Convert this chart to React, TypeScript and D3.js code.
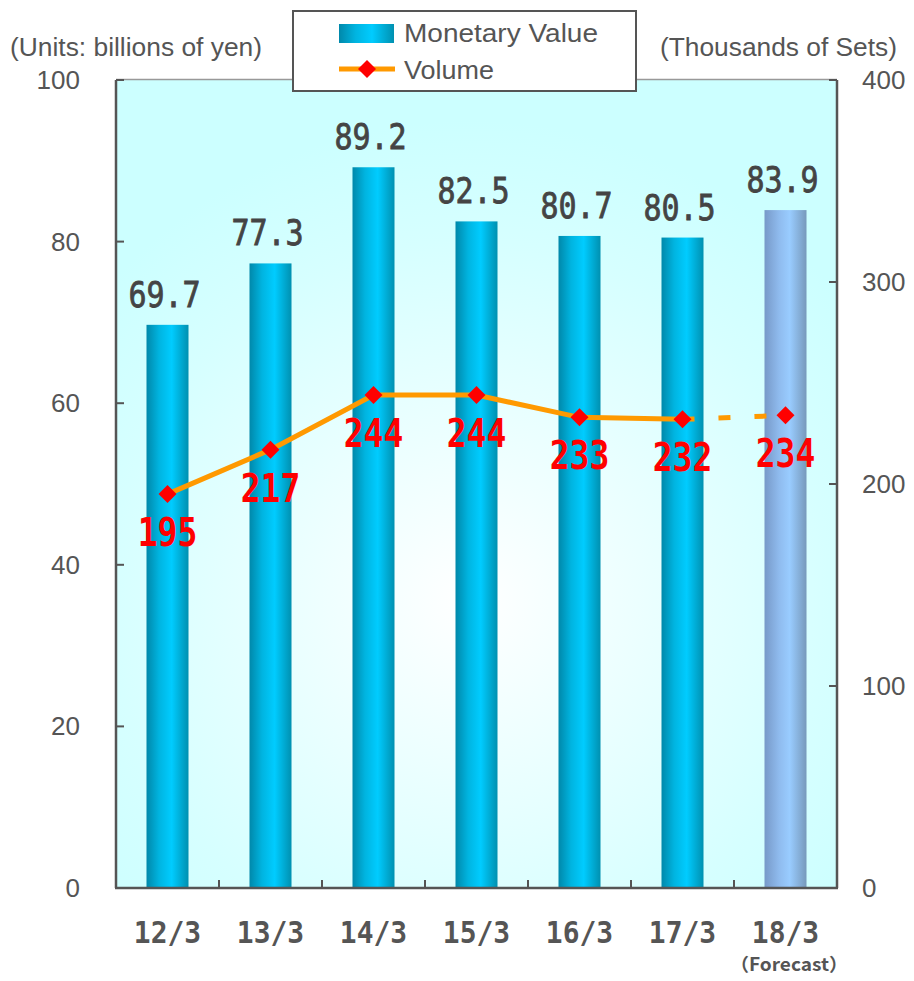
import React from "react";
import * as d3 from "d3";

const categories = ["12/3", "13/3", "14/3", "15/3", "16/3", "17/3", "18/3"];
const monetaryValue = [69.7, 77.3, 89.2, 82.5, 80.7, 80.5, 83.9];
const volume = [195, 217, 244, 244, 233, 232, 234];
const isForecast = [false, false, false, false, false, false, true];
const leftTicks = [0, 20, 40, 60, 80, 100];
const rightTicks = [0, 100, 200, 300, 400];

const W = 914;
const H = 981;
const plot = { left: 116, right: 837, top: 80, bottom: 888 };

export default function App() {
  const x = d3.scaleBand<string>().domain(categories).range([plot.left, plot.right]).paddingInner(0).paddingOuter(0);
  const yL = d3.scaleLinear().domain([0, 100]).range([plot.bottom, plot.top]);
  const yR = d3.scaleLinear().domain([0, 400]).range([plot.bottom, plot.top]);
  const barW = 42;
  const cx = (c: string) => (x(c) as number) + x.bandwidth() / 2;

  const solidIdx = volume.map((_, i) => i).filter((i) => !isForecast[i]);
  const line = d3.line<number>().x((i) => cx(categories[i])).y((i) => yR(volume[i]));
  const lastActual = solidIdx[solidIdx.length - 1];
  const dashIdx = [lastActual, ...volume.map((_, i) => i).filter((i) => isForecast[i])];

  const gray = "#555555";
  const sans = "Liberation Sans, Arial, sans-serif";
  const diamond = (px: number, py: number, r: number) =>
    `M${px},${py - r}L${px + r},${py}L${px},${py + r}L${px - r},${py}Z`;

  return (
    <svg width={W} height={H} style={{ position: "absolute", left: 0, top: 0, background: "#fff" }}>
      <defs>
        <radialGradient id="bg" gradientUnits="userSpaceOnUse" cx={470} cy={600} r={480}>
          <stop offset="0" stopColor="#ffffff" />
          <stop offset="0.75" stopColor="#d6ffff" />
          <stop offset="1" stopColor="#ccffff" />
        </radialGradient>
        <linearGradient id="barG" x1="0" x2="1" y1="0" y2="0">
          <stop offset="0" stopColor="#0088aa" />
          <stop offset="0.3" stopColor="#00b4e0" />
          <stop offset="0.6" stopColor="#00ccff" />
          <stop offset="1" stopColor="#0090b0" />
        </linearGradient>
        <linearGradient id="barF" x1="0" x2="1" y1="0" y2="0">
          <stop offset="0" stopColor="#7799c8" />
          <stop offset="0.35" stopColor="#8fbbee" />
          <stop offset="0.6" stopColor="#99ccff" />
          <stop offset="1" stopColor="#7799bb" />
        </linearGradient>
      </defs>

      {/* plot background */}
      <rect x={plot.left} y={plot.top} width={plot.right - plot.left} height={plot.bottom - plot.top} fill="url(#bg)" />
      <line x1={plot.left} x2={plot.right} y1={plot.top - 0.5} y2={plot.top - 0.5} stroke="#999" strokeWidth={1.5} />

      {/* bars */}
      {categories.map((c, i) => (
        <rect
          key={c}
          x={cx(c) - barW / 2}
          y={yL(monetaryValue[i])}
          width={barW}
          height={yL(0) - yL(monetaryValue[i])}
          fill={isForecast[i] ? "url(#barF)" : "url(#barG)"}
        />
      ))}

      {/* axes */}
      <line x1={plot.left} x2={plot.left} y1={plot.top} y2={plot.bottom} stroke={gray} strokeWidth={2.5} />
      <line x1={plot.right} x2={plot.right} y1={plot.top} y2={plot.bottom} stroke={gray} strokeWidth={2.5} />
      <line x1={plot.left - 1} x2={plot.right + 1} y1={plot.bottom} y2={plot.bottom} stroke={gray} strokeWidth={2.5} />
      {leftTicks.map((t) => (
        <g key={"l" + t}>
          <line x1={plot.left} x2={plot.left + 8} y1={yL(t)} y2={yL(t)} stroke={gray} strokeWidth={2} />
          <text x={80} y={yL(t) + 9} textAnchor="end" fontFamily={sans} fontSize={26} fill={gray}>
            {t}
          </text>
        </g>
      ))}
      {rightTicks.map((t) => (
        <g key={"r" + t}>
          <line x1={plot.right - 8} x2={plot.right} y1={yR(t)} y2={yR(t)} stroke={gray} strokeWidth={2} />
          <text x={862} y={yR(t) + 9} textAnchor="start" fontFamily={sans} fontSize={26} fill={gray}>
            {t}
          </text>
        </g>
      ))}
      {categories.map((c, i) =>
        i > 0 ? (
          <line key={"t" + c} x1={x(c) as number} x2={x(c) as number} y1={plot.bottom} y2={plot.bottom - 8} stroke={gray} strokeWidth={2} />
        ) : null
      )}

      {/* category labels */}
      {categories.map((c) => (
        <text
          key={"c" + c}
          transform={`translate(${cx(c)},943) scale(1,1.1)`}
          textAnchor="middle"
          fontFamily="DejaVu Sans Mono, monospace"
          fontWeight="bold"
          fontSize={28}
          fill={gray}
        >
          {c}
        </text>
      ))}
      <text x={789} y={971} textAnchor="middle" fontFamily="Noto Sans CJK JP, sans-serif" fontWeight="bold" fontSize={18} fill={gray} textLength={118} lengthAdjust="spacingAndGlyphs">
        （Forecast）
      </text>

      {/* bar value labels */}
      {categories.map((c, i) => (
        <text
          key={"v" + c}
          transform={`translate(${cx(c) - 3},${yL(monetaryValue[i]) - 18}) scale(1,1.2)`}
          textAnchor="middle"
          fontFamily="DejaVu Sans Mono, monospace"
          fontSize={30}
          fill="#444"
          stroke="#444"
          strokeWidth={0.7}
        >
          {monetaryValue[i].toFixed(1)}
        </text>
      ))}

      {/* volume line */}
      <path d={line(solidIdx) || ""} fill="none" stroke="#ff9900" strokeWidth={5} />
      <path d={line(dashIdx) || ""} fill="none" stroke="#ff9900" strokeWidth={5} strokeDasharray="12,24" />
      {categories.map((c, i) => (
        <path key={"m" + c} d={diamond(cx(c), yR(volume[i]), 9)} fill="#ff0000" />
      ))}
      {categories.map((c, i) => (
        <text
          key={"vl" + c}
          transform={`translate(${cx(c)},${yR(volume[i]) + 52}) scale(1,1.2)`}
          textAnchor="middle"
          fontFamily="DejaVu Sans Mono, monospace"
          fontWeight="bold"
          fontSize={33}
          fill="#ff0000"
        >
          {volume[i]}
        </text>
      ))}

      {/* unit labels */}
      <text x={10} y={56} fontFamily={sans} fontSize={25} fill={gray} textLength={252} lengthAdjust="spacingAndGlyphs">
        (Units: billions of yen)
      </text>
      <text x={660} y={56} fontFamily={sans} fontSize={25} fill={gray} textLength={237} lengthAdjust="spacingAndGlyphs">
        (Thousands of Sets)
      </text>

      {/* legend */}
      <rect x={293} y={11} width={343} height={80} fill="#fff" stroke={gray} strokeWidth={2} />
      <rect x={339} y={24} width={55} height={19} fill="url(#barG)" />
      <text x={404} y={42} fontFamily={sans} fontSize={25} fill={gray} textLength={194} lengthAdjust="spacingAndGlyphs">
        Monetary Value
      </text>
      <line x1={339} x2={395} y1={69} y2={69} stroke="#ff9900" strokeWidth={5} />
      <path d={diamond(367, 69, 9)} fill="#ff0000" />
      <text x={404} y={79} fontFamily={sans} fontSize={25} fill={gray} textLength={90} lengthAdjust="spacingAndGlyphs">
        Volume
      </text>
    </svg>
  );
}
